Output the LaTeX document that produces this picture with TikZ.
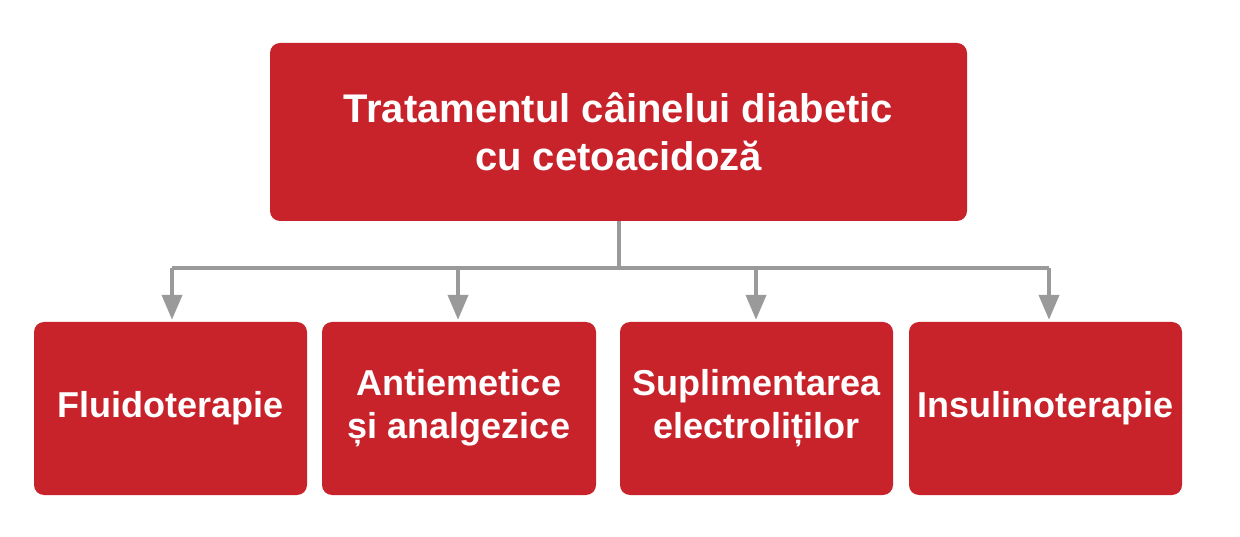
\documentclass[tikz,border=0pt]{standalone}
\usepackage{fontspec}
\setmainfont{Liberation Sans}
\usetikzlibrary{arrows.meta}
\definecolor{boxred}{HTML}{C8222B}
\definecolor{linegray}{HTML}{9A9A9A}
\begin{document}
\begin{tikzpicture}[x=1pt,y=1pt,
  redbox/.style={fill=boxred,draw=none,rounded corners=10pt,text=white,align=center,inner sep=0pt,font=\bfseries},
  topbox/.style={redbox,minimum width=697pt,minimum height=178pt,font=\bfseries\fontsize{40}{48}\selectfont},
  subbox/.style={redbox,minimum width=273pt,minimum height=173pt,font=\bfseries\fontsize{36}{43}\selectfont},
  conn/.style={draw=linegray,line width=4pt},
  arr/.style={conn,-{Triangle[width=20pt,length=25pt]},shorten >=2pt}]
\useasboundingbox (0,0) rectangle (1240,536);
\fill[white] (0,0) rectangle (1240,536);
\node[topbox] (top) at (618.5,404) {Tratamentul câinelui diabetic\\cu cetoacidoză};
\node[subbox] (b1) at (170.5,127.5) {Fluidoterapie};
\node[subbox,minimum width=274pt] (b2) at (459,127.5) {Antiemetice\\ și analgezice};
\node[subbox] (b3) at (756.5,127.5) {Suplimentarea\\ electroliților};
\node[subbox] (b4) at (1045.5,127.5) {Insulinoterapie};
\draw[conn] (top.south) -- ++(0,-47) coordinate (hub);
\coordinate (d1) at (172,268);
\coordinate (d4) at (1049,268);
\draw[conn] (d1) -- (d4);
\foreach \b/\x in {b1/172,b2/458,b3/756,b4/1049}{
  \draw[arr] (\x,268) -- (\b.north -| \x,0);
}
\end{tikzpicture}
\end{document}
